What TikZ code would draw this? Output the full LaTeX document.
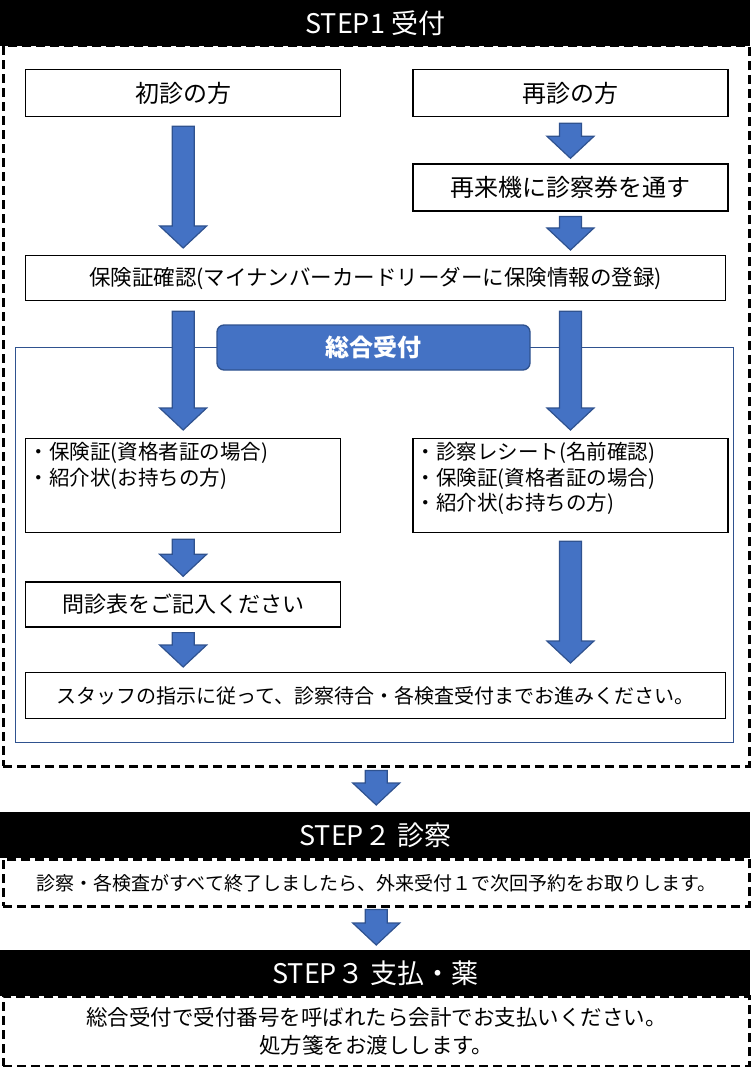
\documentclass[tikz,border=0pt]{standalone}
\usepackage{fontspec}
\setmainfont{Noto Sans CJK JP}
\usetikzlibrary{positioning,calc}
\definecolor{flowblue}{RGB}{68,114,196}
\definecolor{flowedge}{RGB}{47,82,143}
\tikzset{
  box/.style={draw,line width=1.3pt,minimum height=47pt,minimum width=315pt,inner sep=0pt,anchor=north west,font=\fontsize{24pt}{28pt}\selectfont},
  listbox/.style={draw,line width=1.3pt,inner xsep=3pt,inner ysep=4pt,anchor=north west,font=\fontsize{20.5pt}{25.5pt}\selectfont},
  header/.style={fill=black,text=white,minimum width=750pt,minimum height=46pt,inner sep=0pt,anchor=north west,font=\fontsize{27pt}{30pt}\selectfont},
  stepframe/.style={draw,line width=2.5pt,dash pattern=on 9pt off 5pt,minimum width=746pt,inner sep=0pt,anchor=north west},
  blueframe/.style={draw=flowedge,line width=1.3pt,inner sep=0pt,anchor=north west},
  tag/.style={draw=flowedge,fill=flowblue,line width=1.3pt,rounded corners=7pt,minimum width=313pt,minimum height=45pt,text=white,font=\fontsize{24pt}{28pt}\selectfont\bfseries},
  flowarrow/.style={fill=flowblue,draw=flowedge,line width=1.2pt,
    to path={let \p1=(\tikztostart),\p2=(\tikztotarget) in
      (\x1-11pt,\y1) -- (\x1+11pt,\y1) -- (\x1+11pt,\y2+22pt) -- (\x1+23.5pt,\y2+22pt)
      -- (\x1,\y2) -- (\x1-23.5pt,\y2+22pt) -- (\x1-11pt,\y2+22pt) -- cycle}}
}
\newcommand{\listtext}[1]{\parbox[t][86pt][t]{309pt}{\raggedright #1}}

\begin{document}
\begin{tikzpicture}[x=1pt,y=-1pt]
\useasboundingbox (0,0) rectangle (750,1067);
% step 1
\node[stepframe,minimum height=720pt] (step1frame) at (2,45) {};
\node[header] (step1) at (0,0) {STEP1 受付};
\node[box] (shoshin) at (25,69) {初診の方};
\node[box,right=71pt of shoshin] (saishin) {再診の方};
\node[box,below=46pt of saishin] (saiki) {再来機に診察券を通す};
\node[box,minimum width=700pt,minimum height=45pt,font=\fontsize{21.5pt}{26pt}\selectfont] (hoken) at (25,255) {保険証確認(マイナンバーカードリーダーに保険情報の登録)};
\node[blueframe,minimum width=718pt,minimum height=395pt] (sougouframe) at (15,347) {};
\node[tag] (sougou) at (373.5,347.5) {総合受付};
\node[listbox] (listL) at (25,438) {\listtext{・保険証(資格者証の場合)\\・紹介状(お持ちの方)}};
\node[listbox,right=71pt of listL] (listR) {\listtext{・診察レシート(名前確認)\\・保険証(資格者証の場合)\\・紹介状(お持ちの方)}};
\node[box,below=48pt of listL,minimum height=45pt,font=\fontsize{22pt}{26pt}\selectfont] (monshin) {問診表をご記入ください};
\node[box,minimum width=700pt,minimum height=46pt,font=\fontsize{20pt}{24pt}\selectfont] (staff) at (25,672) {スタッフの指示に従って、診察待合・各検査受付までお進みください。};
% step 2
\node[stepframe,minimum height=47pt,font=\fontsize{19pt}{23pt}\selectfont] (step2body) at (2,858) {診察・各検査がすべて終了しましたら、外来受付１で次回予約をお取りします。};
\node[header] (step2) at (0,812) {STEP２ 診察};
% step 3
\node[stepframe,minimum height=70pt,align=center,font=\fontsize{21.5pt}{28pt}\selectfont] (step3body) at (2,995) {総合受付で受付番号を呼ばれたら会計でお支払いください。\\処方箋をお渡しします。};
\node[header] (step3) at (0,950) {STEP３ 支払・薬};
% arrows
\draw[flowarrow] ([yshift=-9pt]shoshin.south) to ($(hoken.north -| shoshin.south)+(0pt,7pt)$);
\draw[flowarrow] ([yshift=-6pt]saishin.south) to ([yshift=5pt]saiki.north);
\draw[flowarrow] ([yshift=-5pt]saiki.south) to ($(hoken.north -| saiki.south)+(0pt,5pt)$);
\draw[flowarrow] ($(hoken.south -| listL.south)+(0pt,-10pt)$) to ([yshift=8pt]listL.north);
\draw[flowarrow] ($(hoken.south -| listR.south)+(0pt,-10pt)$) to ([yshift=8pt]listR.north);
\draw[flowarrow] ([yshift=-6pt]listL.south) to ([yshift=5pt]monshin.north);
\draw[flowarrow] ([yshift=-5pt]monshin.south) to ($(staff.north -| monshin.south)+(0pt,5pt)$);
\draw[flowarrow] ([yshift=-8pt]listR.south) to ($(staff.north -| listR.south)+(0pt,9pt)$);
\draw[flowarrow] ([yshift=-3pt]step1frame.south) to ([yshift=7pt]step2.north);
\draw[flowarrow] ([yshift=-2pt]step2body.south) to ([yshift=5pt]step3.north);
\end{tikzpicture}
\end{document}
